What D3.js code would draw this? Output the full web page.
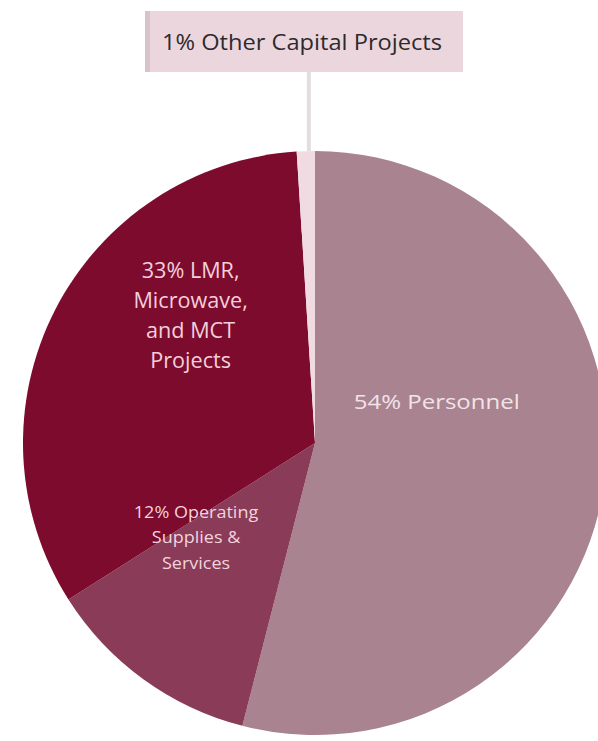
<!DOCTYPE html>
<html>
<head>
<meta charset="utf-8">
<script src="https://cdn.jsdelivr.net/npm/d3@7"></script>
<style>
  html, body { margin: 0; padding: 0; background: #ffffff; }
  svg { display: block; font-family: "Open Sans", sans-serif; }
</style>
</head>
<body>
<svg id="chart" width="598" height="741"></svg>
<script>
// Budget shares, in percent, in drawing order (clockwise from 12 o'clock)
const categories = ["Personnel", "Operating Supplies & Services", "LMR, Microwave, and MCT Projects", "Other Capital Projects"];
const values = [54, 12, 33, 1];
// Label line breaks; the first line is prefixed with the share
const labelLines = [
  ["Personnel"],
  ["Operating", "Supplies &", "Services"],
  ["LMR,", "Microwave,", "and MCT", "Projects"],
  ["Other Capital Projects"]
];
const colors = ["#a9838f", "#8a3b57", "#7c0b2e", "#efdbe1"];

const svg = d3.select("#chart");
const cx = 315, cy = 443, radius = 292;

const pie = d3.pie().sort(null).value(d => d.value);
const data = categories.map((c, i) => ({ name: c, value: values[i], lines: labelLines[i], color: colors[i] }));
const arcs = pie(data);
const arc = d3.arc().innerRadius(0).outerRadius(radius);

const g = svg.append("g").attr("transform", `translate(${cx},${cy})`);

g.selectAll("path.slice")
  .data(arcs)
  .join("path")
  .attr("class", "slice")
  .attr("d", arc)
  .attr("fill", d => d.data.color);

// In-slice labels: placed at a fraction of the radius along a chosen angle,
// with the type widened slightly (stretch) for the rounded look of the labels
const labelArc = (a, f) => d3.arc().innerRadius(radius * f).outerRadius(radius * f)
  .startAngle(a).endAngle(a);
const inside = [
  { i: 0, angle: 71.4, f: 0.44, size: 20.5, stretch: 1.17, lh: 29, fill: "#f1e3e8" },
  { i: 1, angle: 231.6, f: 0.52, size: 17, stretch: 1.06, lh: 25.5, fill: "#f3d3de" },
  { i: 2, angle: 315.7, f: 0.61, size: 21, stretch: 1.03, lh: 30, fill: "#f4cfdb" }
];
inside.forEach(L => {
  const d = arcs[L.i];
  const a = L.angle * Math.PI / 180;
  const [x, y] = labelArc(a, L.f).centroid();
  const lines = d.data.lines.slice();
  lines[0] = `${d.data.value}% ${lines[0]}`;
  const t = g.append("text")
    .attr("text-anchor", "middle")
    .attr("fill", L.fill)
    .attr("font-size", L.size)
    .attr("transform", `translate(${x},${y - (lines.length - 1) * L.lh / 2}) scale(${L.stretch},1)`);
  lines.forEach((ln, k) => {
    t.append("tspan").attr("x", 0).attr("y", k * L.lh).attr("dy", "0.35em").text(ln);
  });
});

// Callout for the thin slice: leader line up to a boxed label
const other = arcs[3];
const midA = (other.startAngle + other.endAngle) / 2;
const rim = d3.arc().innerRadius(radius).outerRadius(radius).startAngle(midA).endAngle(midA).centroid();
const boxX = 145, boxY = 11, boxW = 318, boxH = 61;

g.append("line")
  .attr("x1", rim[0] + 3).attr("y1", rim[1])
  .attr("x2", rim[0] + 3).attr("y2", boxY + boxH - cy)
  .attr("stroke", "#e4dcdf")
  .attr("stroke-width", 4);

svg.append("rect")
  .attr("x", boxX).attr("y", boxY)
  .attr("width", boxW).attr("height", boxH)
  .attr("fill", "#ecd6dd");
svg.append("rect")
  .attr("x", boxX).attr("y", boxY)
  .attr("width", 5).attr("height", boxH)
  .attr("fill", "#d9c3ca");

svg.append("text")
  .attr("transform", `translate(${boxX + boxW / 2 - 2},50) scale(1.1,1)`)
  .attr("text-anchor", "middle")
  .attr("fill", "#2e2a2c")
  .attr("font-size", 21.5)
  .text(`${other.data.value}% ${other.data.lines[0]}`);
</script>
</body>
</html>
